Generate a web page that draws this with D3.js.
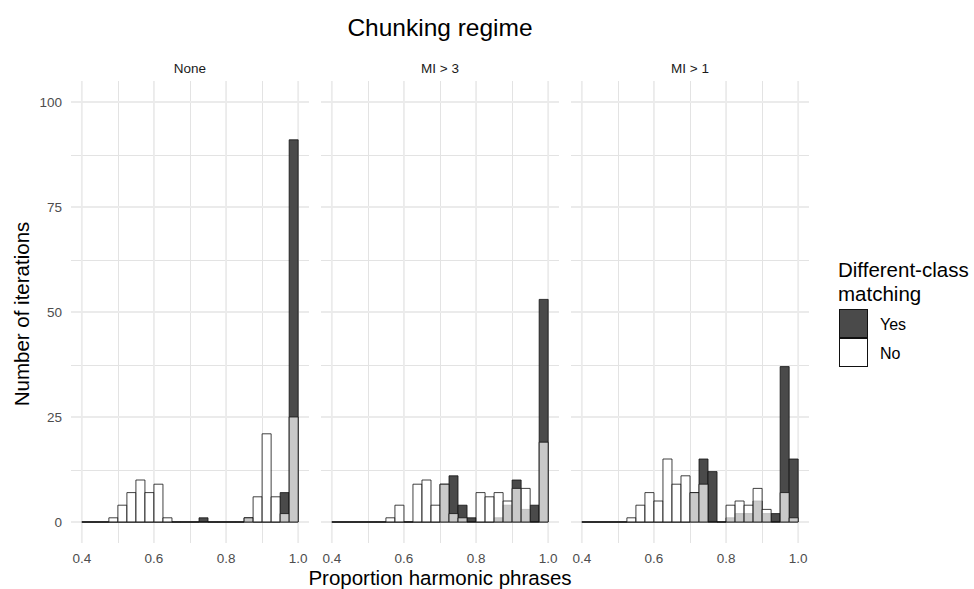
<!DOCTYPE html>
<html>
<head>
<meta charset="utf-8">
<script src="https://cdn.jsdelivr.net/npm/d3@7"></script>
<style>
  body { margin: 0; background: #fff; }
  svg text { font-family: "Liberation Sans", Arial, sans-serif; }
</style>
</head>
<body>
<svg id="chart"></svg>
<script>
// facets and bins (start of each 0.025 wide bin)
const panels = ["None", "MI > 3", "MI > 1"];
const binStarts = [0.400, 0.425, 0.450, 0.475, 0.500, 0.525, 0.550, 0.575,
                   0.600, 0.625, 0.650, 0.675, 0.700, 0.725, 0.750, 0.775,
                   0.800, 0.825, 0.850, 0.875, 0.900, 0.925, 0.950, 0.975];
const binWidth = 0.025;

// counts per bin
const yesNone = [0,0,0,0,0,0,0,0,0,0,0,0,0,1,0,0,0,0,1,0,0,0,7,91];
const noNone  = [0,0,0,1,4,7,10,7,9,1,0,0,0,0,0,0,0,0,1,6,21,6,2,25];
const yesMi3  = [0,0,0,0,0,0,0,0,0,0,0,0,9,11,4,1,0,0,1,4,10,3,4,53];
const noMi3   = [0,0,0,0,0,0,1,4,0,9,10,4,9,2,1,0,7,6,7,5,8,8,0,19];
const yesMi1  = [0,0,0,0,0,0,0,0,0,0,0,0,7,15,12,0,1,2,2,5,2,2,37,15];
const noMi1   = [0,0,0,0,0,1,4,7,5,15,9,11,7,9,0,0,4,5,4,8,3,0,7,1];

const xTicks = [0.4, 0.6, 0.8, 1.0];
const xMinor = [0.5, 0.7, 0.9];
const yTicks = [0, 25, 50, 75, 100];
const yMinor = [12.5, 37.5, 62.5, 87.5];

const legendLabels = ["Yes", "No"];

const svgWidth = 974, svgHeight = 589;
const panelLeft = [71, 321, 571], panelWidth = 238;
const panelTop = 81, panelBottom = 543;

const yesFill = "#4a4a4a";
const noFill = "#ffffff", noAlpha = 0.7;

const chart = d3.select("#chart")
    .attr("width", svgWidth)
    .attr("height", svgHeight);

var yScale = d3.scaleLinear().domain([-5, 105]).range([panelBottom, panelTop]);

var series = [
    {yes: yesNone, no: noNone},
    {yes: yesMi3, no: noMi3},
    {yes: yesMi1, no: noMi1}
];

function binData(counts) {
    return binStarts.map(function(s, i) { return {x0: s, x1: s + binWidth, n: counts[i]}; });
}

// bars as closed paths so that empty bins still show as a flat line
function barPath(xScale) {
    return function(d) {
        var p = d3.path();
        p.moveTo(xScale(d.x0), yScale(0));
        p.lineTo(xScale(d.x0), yScale(d.n));
        p.lineTo(xScale(d.x1), yScale(d.n));
        p.lineTo(xScale(d.x1), yScale(0));
        p.closePath();
        return p.toString();
    };
}

panels.forEach(function(name, p) {
    var xScale = d3.scaleLinear().domain([0.37, 1.03])
        .range([panelLeft[p], panelLeft[p] + panelWidth]);
    var g = chart.append("g");

    // grid
    g.selectAll(".ymin").data(yMinor).enter().append("line")
        .attr("x1", panelLeft[p]).attr("x2", panelLeft[p] + panelWidth)
        .attr("y1", d => Math.round(yScale(d)) + 0.5).attr("y2", d => Math.round(yScale(d)) + 0.5)
        .attr("stroke", "#e3e3e3").attr("stroke-width", 1);
    g.selectAll(".xmin").data(xMinor).enter().append("line")
        .attr("y1", panelTop).attr("y2", panelBottom)
        .attr("x1", d => Math.round(xScale(d)) + 0.5).attr("x2", d => Math.round(xScale(d)) + 0.5)
        .attr("stroke", "#e3e3e3").attr("stroke-width", 1);
    g.selectAll(".ymaj").data(yTicks).enter().append("line")
        .attr("x1", panelLeft[p]).attr("x2", panelLeft[p] + panelWidth)
        .attr("y1", d => yScale(d)).attr("y2", d => yScale(d))
        .attr("stroke", "#ebebeb").attr("stroke-width", 1.8);
    g.selectAll(".xmaj").data(xTicks).enter().append("line")
        .attr("y1", panelTop).attr("y2", panelBottom)
        .attr("x1", d => xScale(d)).attr("x2", d => xScale(d))
        .attr("stroke", "#ebebeb").attr("stroke-width", 1.8);

    // x tick labels
    g.selectAll(".xlab").data(xTicks).enter().append("text")
        .attr("x", d => xScale(d)).attr("y", 563)
        .attr("text-anchor", "middle")
        .style("font-size", "13.5px").style("fill", "#4d4d4d")
        .text(d3.format(".1f"));

    // strip label
    g.append("text")
        .attr("x", panelLeft[p] + panelWidth / 2).attr("y", 73)
        .attr("text-anchor", "middle")
        .style("font-size", "13.5px").style("fill", "#1a1a1a")
        .text(name);

    // bars: Yes first, No drawn over it with alpha
    [["yes", yesFill, 1], ["no", noFill, noAlpha]].forEach(function(s) {
        g.append("g").selectAll("path")
            .data(binData(series[p][s[0]]))
            .enter().append("path")
            .attr("d", barPath(xScale))
            .style("fill", s[1])
            .style("fill-opacity", s[2])
            .style("stroke", "#111")
            .style("stroke-width", 0.8);
    });
});

// y tick labels (left panel only)
chart.append("g").selectAll("text").data(yTicks).enter().append("text")
    .attr("x", 62).attr("y", d => yScale(d)).attr("dy", "0.35em")
    .attr("text-anchor", "end")
    .style("font-size", "13.5px").style("fill", "#4d4d4d")
    .text(d => d);

// titles
chart.append("text")
    .attr("x", 440).attr("y", 36)
    .attr("text-anchor", "middle")
    .style("font-size", "24.5px")
    .text("Chunking regime");

chart.append("text")
    .attr("x", 440).attr("y", 585)
    .attr("text-anchor", "middle")
    .style("font-size", "20.5px")
    .text("Proportion harmonic phrases");

chart.append("text")
    .attr("transform", "translate(29,314) rotate(-90)")
    .attr("text-anchor", "middle")
    .style("font-size", "20.5px")
    .text("Number of iterations");

// legend
var legend = chart.append("g");
legend.append("text").attr("x", 838).attr("y", 277)
    .style("font-size", "20.5px").text("Different-class");
legend.append("text").attr("x", 838).attr("y", 301)
    .style("font-size", "20.5px").text("matching");

legend.selectAll("rect").data(legendLabels).enter().append("rect")
    .attr("x", 839.5).attr("y", (d, i) => 309.5 + i * 29)
    .attr("width", 28).attr("height", 28)
    .style("fill", (d, i) => i == 0 ? yesFill : noFill)
    .style("stroke", "#111").style("stroke-width", 1);

legend.selectAll(".lab").data(legendLabels).enter().append("text")
    .attr("x", 880).attr("y", (d, i) => 330 + i * 29)
    .style("font-size", "16px")
    .text(d => d);
</script>
</body>
</html>
